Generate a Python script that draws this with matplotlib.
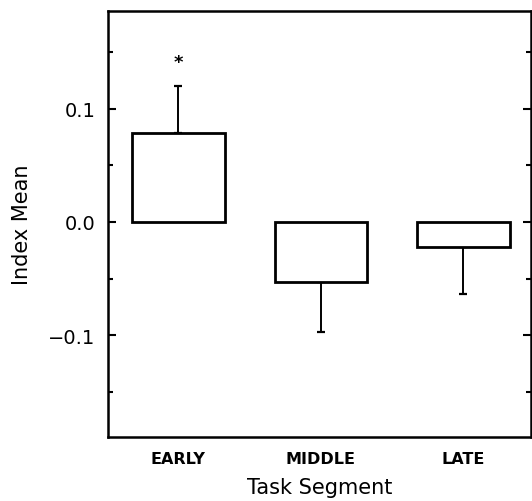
import matplotlib.pyplot as plt
from matplotlib.ticker import MultipleLocator

# Data
segments = ['EARLY', 'MIDDLE', 'LATE']
index_mean = [0.078, -0.053, -0.022]
index_err = [0.042, 0.044, 0.042]
star_y = 0.141

fig = plt.figure(figsize=(5.32, 5.02), dpi=100)
ax = fig.add_axes([0.203, 0.128, 0.795, 0.848])

x = list(range(len(segments)))
ax.bar(x, index_mean, width=0.65, color='white', edgecolor='black', linewidth=2.0, zorder=2)

# one-sided error bars: up for positive means, down for negative ones
lower = [0 if m > 0 else e for m, e in zip(index_mean, index_err)]
upper = [e if m > 0 else 0 for m, e in zip(index_mean, index_err)]
ax.errorbar(x, index_mean, yerr=[lower, upper], fmt='none', ecolor='black',
            elinewidth=1.4, capsize=3, capthick=1.6, zorder=1)

ax.text(0, star_y, '*', ha='center', va='center', fontsize=13, fontweight='bold')

ax.set_xlim(-0.494, 2.474)
ax.set_ylim(-0.1895, 0.186)
ax.set_xticks(x)
ax.set_xticklabels(segments, fontsize=11.5, fontweight='bold')
ax.tick_params(axis='x', length=0, pad=10)

ax.yaxis.set_minor_locator(MultipleLocator(0.05))
ax.set_yticks([-0.1, 0.0, 0.1])
ax.set_yticklabels(['\u22120.1', '0.0', '0.1'], fontsize=14)
ax.tick_params(axis='y', which='major', direction='in', length=6, width=1.5,
               right=True, pad=9)
ax.tick_params(axis='y', which='minor', direction='in', length=3.5, width=1.5,
               right=True)

for s in ax.spines.values():
    s.set_linewidth(1.8)

ax.set_ylabel('Index Mean', fontsize=15, labelpad=12)
ax.set_xlabel('Task Segment', fontsize=15, labelpad=8)

plt.savefig('out.png', dpi=100)
